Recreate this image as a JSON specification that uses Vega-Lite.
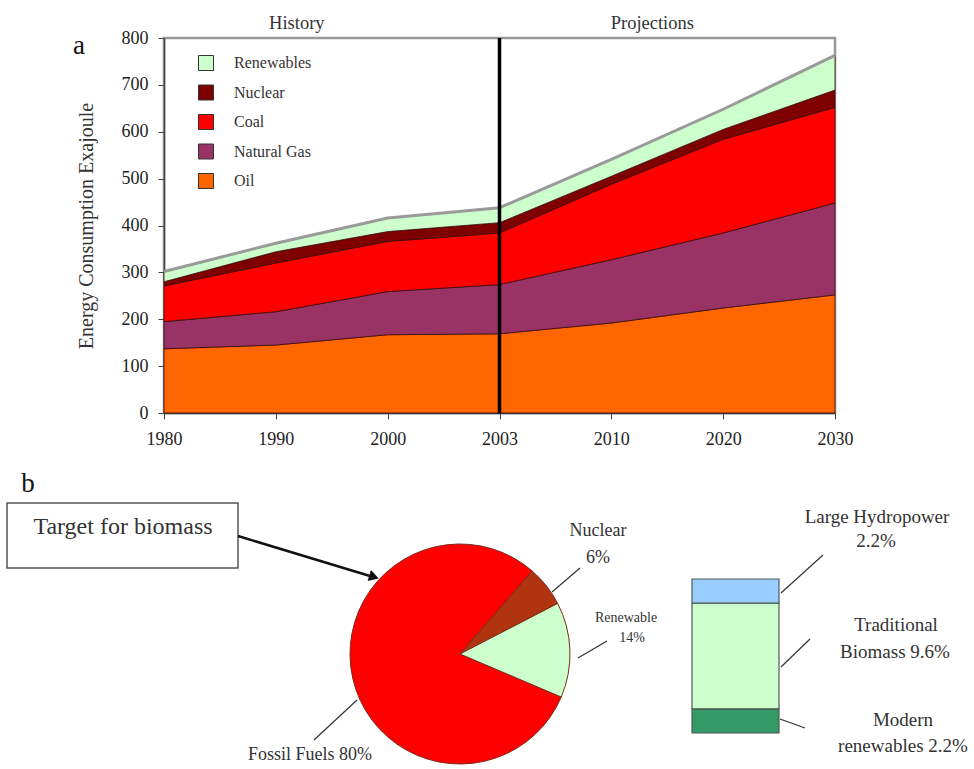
{
  "$schema": "https://vega.github.io/schema/vega-lite/v6.json",
  "background": "white",
  "padding": {"left": 6, "top": 12, "right": 0, "bottom": 0},
  "config": {
    "font": "Liberation Serif",
    "text": {"font": "Liberation Serif", "color": "#333"}
  },
  "bounds": "flush",
  "spacing": 127,
  "vconcat": [
    {
      "width": 671,
      "height": 375,
      "view": {"stroke": "#999", "strokeWidth": 2.5},
      "layer": [
        {
          "data": {
            "values": [
              {"year": "1980", "source": "Oil", "value": 137},
              {"year": "1980", "source": "Natural Gas", "value": 58},
              {"year": "1980", "source": "Coal", "value": 76},
              {"year": "1980", "source": "Nuclear", "value": 9},
              {"year": "1980", "source": "Renewables", "value": 22},
              {"year": "1990", "source": "Oil", "value": 145},
              {"year": "1990", "source": "Natural Gas", "value": 71},
              {"year": "1990", "source": "Coal", "value": 104},
              {"year": "1990", "source": "Nuclear", "value": 24},
              {"year": "1990", "source": "Renewables", "value": 18},
              {"year": "2000", "source": "Oil", "value": 167},
              {"year": "2000", "source": "Natural Gas", "value": 92},
              {"year": "2000", "source": "Coal", "value": 107},
              {"year": "2000", "source": "Nuclear", "value": 21},
              {"year": "2000", "source": "Renewables", "value": 29},
              {"year": "2003", "source": "Oil", "value": 169},
              {"year": "2003", "source": "Natural Gas", "value": 105},
              {"year": "2003", "source": "Coal", "value": 110},
              {"year": "2003", "source": "Nuclear", "value": 22},
              {"year": "2003", "source": "Renewables", "value": 32},
              {"year": "2010", "source": "Oil", "value": 192},
              {"year": "2010", "source": "Natural Gas", "value": 135},
              {"year": "2010", "source": "Coal", "value": 161},
              {"year": "2010", "source": "Nuclear", "value": 17},
              {"year": "2010", "source": "Renewables", "value": 36},
              {"year": "2020", "source": "Oil", "value": 224},
              {"year": "2020", "source": "Natural Gas", "value": 160},
              {"year": "2020", "source": "Coal", "value": 200},
              {"year": "2020", "source": "Nuclear", "value": 21},
              {"year": "2020", "source": "Renewables", "value": 43},
              {"year": "2030", "source": "Oil", "value": 252},
              {"year": "2030", "source": "Natural Gas", "value": 196},
              {"year": "2030", "source": "Coal", "value": 204},
              {"year": "2030", "source": "Nuclear", "value": 37},
              {"year": "2030", "source": "Renewables", "value": 74}
            ]
          },
          "layer": [
            {
              "transform": [
                {"calculate": "indexof(['Oil','Natural Gas','Coal','Nuclear','Renewables'], datum.source)", "as": "rank"}
              ],
              "mark": {"type": "area", "stroke": "#3b0a0a", "strokeWidth": 0.8, "opacity": 1},
              "encoding": {
                "x": {
                  "field": "year",
                  "type": "ordinal",
                  "scale": {"type": "point", "padding": 0, "domain": ["1980", "1990", "2000", "2003", "2010", "2020", "2030"]},
                  "axis": {
                    "title": null,
                    "labelAngle": 0,
                    "labelFontSize": 18,
                    "labelColor": "#222",
                    "labelPadding": 11,
                    "tickSize": 6,
                    "tickColor": "#444",
                    "domainColor": "#444",
                    "domainWidth": 1.5
                  }
                },
                "y": {
                  "field": "value",
                  "type": "quantitative",
                  "stack": "zero",
                  "scale": {"domain": [0, 800], "nice": false},
                  "axis": {
                    "title": "Energy Consumption Exajoule",
                    "titleFontSize": 20,
                    "titleFontWeight": "normal",
                    "titleColor": "#333",
                    "titlePadding": 25,
                    "values": [0, 100, 200, 300, 400, 500, 600, 700, 800],
                    "grid": false,
                    "labelFontSize": 18,
                    "labelColor": "#222",
                    "labelPadding": 10,
                    "tickSize": 6,
                    "tickColor": "#444",
                    "domainColor": "#444",
                    "domainWidth": 1.5
                  }
                },
                "color": {
                  "field": "source",
                  "type": "nominal",
                  "scale": {
                    "domain": ["Renewables", "Nuclear", "Coal", "Natural Gas", "Oil"],
                    "range": ["#ccffcc", "#7f0000", "#ff0000", "#993366", "#ff6600"]
                  },
                  "legend": {
                    "title": null,
                    "orient": "none",
                    "legendX": 34,
                    "legendY": 17,
                    "padding": 0,
                    "symbolType": "square",
                    "symbolSize": 225,
                    "symbolOpacity": 1,
                    "symbolStrokeColor": "#333",
                    "symbolStrokeWidth": 1,
                    "labelFontSize": 16,
                    "labelColor": "#333",
                    "labelOffset": 20,
                    "rowPadding": 9.5
                  }
                },
                "order": {"field": "rank", "type": "quantitative"}
              }
            },
            {
              "transform": [
                {"aggregate": [{"op": "sum", "field": "value", "as": "total"}], "groupby": ["year"]}
              ],
              "mark": {"type": "line", "color": "#9a9a9a", "strokeWidth": 3},
              "encoding": {
                "x": {"field": "year", "type": "ordinal"},
                "y": {"field": "total", "type": "quantitative"}
              }
            }
          ]
        },
        {
          "data": {"values": [{}]},
          "mark": {"type": "rule", "color": "black", "strokeWidth": 3.5},
          "encoding": {"x": {"datum": "2003"}}
        },
        {
          "data": {"values": [{}]},
          "mark": {"type": "text", "fontSize": 18.5, "dx": 21, "dy": -15, "baseline": "middle"},
          "encoding": {"x": {"datum": "1990"}, "y": {"datum": 800}, "text": {"value": "History"}}
        },
        {
          "data": {"values": [{}]},
          "mark": {"type": "text", "fontSize": 18.5, "dx": 41, "dy": -15, "baseline": "middle"},
          "encoding": {"x": {"datum": "2010"}, "y": {"datum": 800}, "text": {"value": "Projections"}}
        },
        {
          "data": {"values": [{}]},
          "mark": {"type": "text", "fontSize": 27, "dx": -85, "dy": 8, "baseline": "middle", "color": "#111"},
          "encoding": {"x": {"datum": "1980"}, "y": {"datum": 800}, "text": {"value": "a"}}
        }
      ]
    },
    {
      "width": 592,
      "height": 228,
      "view": {"stroke": null},
      "resolve": {"scale": {"y": "independent", "color": "independent"}},
      "layer": [
        {
          "encoding": {
            "x": {"field": "x", "type": "quantitative", "scale": {"domain": [164, 756], "nice": false, "zero": false}, "axis": null},
            "y": {"field": "y", "type": "quantitative", "scale": {"domain": [540, 768], "nice": false, "zero": false, "reverse": true}, "axis": null}
          },
          "layer": [
            {
              "data": {"values": [{"x": 7, "x2": 238, "y": 503, "y2": 568}]},
              "mark": {"type": "rect", "fill": "white", "stroke": "#555", "strokeWidth": 1.5},
              "encoding": {"x2": {"field": "x2"}, "y2": {"field": "y2"}}
            },
            {
              "data": {
                "values": [
                  {"x": 580, "y": 568, "x2": 552, "y2": 592},
                  {"x": 607, "y": 641, "x2": 578, "y2": 658},
                  {"x": 357, "y": 700, "x2": 314, "y2": 740},
                  {"x": 823, "y": 555, "x2": 781, "y2": 593},
                  {"x": 810, "y": 639, "x2": 781, "y2": 667},
                  {"x": 780, "y": 719, "x2": 805, "y2": 728}
                ]
              },
              "mark": {"type": "rule", "color": "#333", "strokeWidth": 1.2},
              "encoding": {"x2": {"field": "x2"}, "y2": {"field": "y2"}}
            },
            {
              "data": {"values": [{"x": 238, "y": 536, "x2": 370, "y2": 576}]},
              "mark": {"type": "rule", "color": "#111", "strokeWidth": 2.5},
              "encoding": {"x2": {"field": "x2"}, "y2": {"field": "y2"}}
            },
            {
              "data": {"values": [{"x": 374, "y": 577}]},
              "mark": {"type": "point", "shape": "triangle-right", "angle": 17, "filled": true, "color": "#111", "size": 130, "opacity": 1},
              "encoding": {}
            },
            {
              "data": {"values": [{"label": "b", "x": 28, "y": 484}]},
              "mark": {"type": "text", "fontSize": 27, "baseline": "middle", "color": "#111"},
              "encoding": {"text": {"field": "label"}}
            },
            {
              "data": {"values": [{"label": "Target for biomass", "x": 123, "y": 527}]},
              "mark": {"type": "text", "fontSize": 24, "baseline": "middle"},
              "encoding": {"text": {"field": "label"}}
            },
            {
              "data": {
                "values": [
                  {"label": "Nuclear", "x": 598, "y": 531},
                  {"label": "6%", "x": 598, "y": 558},
                  {"label": "Fossil Fuels 80%", "x": 310, "y": 755}
                ]
              },
              "mark": {"type": "text", "fontSize": 18, "baseline": "middle"},
              "encoding": {"text": {"field": "label"}}
            },
            {
              "data": {
                "values": [
                  {"label": "Large Hydropower", "x": 877, "y": 517},
                  {"label": "2.2%", "x": 876, "y": 541},
                  {"label": "Traditional", "x": 896, "y": 625},
                  {"label": "Biomass  9.6%", "x": 895, "y": 652},
                  {"label": "Modern", "x": 903, "y": 720},
                  {"label": "renewables 2.2%", "x": 903, "y": 746}
                ]
              },
              "mark": {"type": "text", "fontSize": 19, "baseline": "middle"},
              "encoding": {"text": {"field": "label"}}
            },
            {
              "data": {
                "values": [
                  {"label": "Renewable", "x": 626, "y": 618},
                  {"label": "14%", "x": 632, "y": 638}
                ]
              },
              "mark": {"type": "text", "fontSize": 14, "baseline": "middle"},
              "encoding": {"text": {"field": "label"}}
            }
          ]
        },
        {
          "data": {
            "values": [
              {"part": "Fossil Fuels", "share": 80},
              {"part": "Nuclear", "share": 6},
              {"part": "Renewable", "share": 14}
            ]
          },
          "transform": [
            {"calculate": "indexof(['Nuclear','Renewable','Fossil Fuels'], datum.part)", "as": "rank"}
          ],
          "mark": {"type": "arc", "outerRadius": 110, "stroke": "#7a2a1a", "strokeWidth": 1},
          "encoding": {
            "theta": {"field": "share", "type": "quantitative", "stack": true, "scale": {"range": [0.716, 6.999]}},
            "color": {
              "field": "part",
              "type": "nominal",
              "scale": {"domain": ["Fossil Fuels", "Nuclear", "Renewable"], "range": ["#ff0000", "#b0340f", "#ccffcc"]},
              "legend": null
            },
            "order": {"field": "rank", "type": "quantitative"}
          }
        },
        {
          "data": {
            "values": [
              {"part": "Modern renewables", "share": 2.2},
              {"part": "Traditional biomass", "share": 9.6},
              {"part": "Large hydropower", "share": 2.2}
            ]
          },
          "transform": [
            {"calculate": "indexof(['Modern renewables','Traditional biomass','Large hydropower'], datum.part)", "as": "rank"},
            {"stack": "share", "groupby": [], "sort": [{"field": "rank", "order": "ascending"}], "as": ["lo", "hi"]}
          ],
          "mark": {"type": "rect", "stroke": "#4d5a52", "strokeWidth": 1.2},
          "encoding": {
            "x": {"datum": 692, "type": "quantitative", "scale": {"domain": [164, 756], "nice": false, "zero": false}, "axis": null},
            "x2": {"datum": 779},
            "y": {"field": "lo", "type": "quantitative", "scale": {"domain": [-3.181, 17.544], "nice": false, "zero": false}, "axis": null},
            "y2": {"field": "hi"},
            "color": {
              "field": "part",
              "type": "nominal",
              "scale": {"domain": ["Large hydropower", "Traditional biomass", "Modern renewables"], "range": ["#99ccff", "#ccffcc", "#339966"]},
              "legend": null
            }
          }
        }
      ]
    }
  ]
}
